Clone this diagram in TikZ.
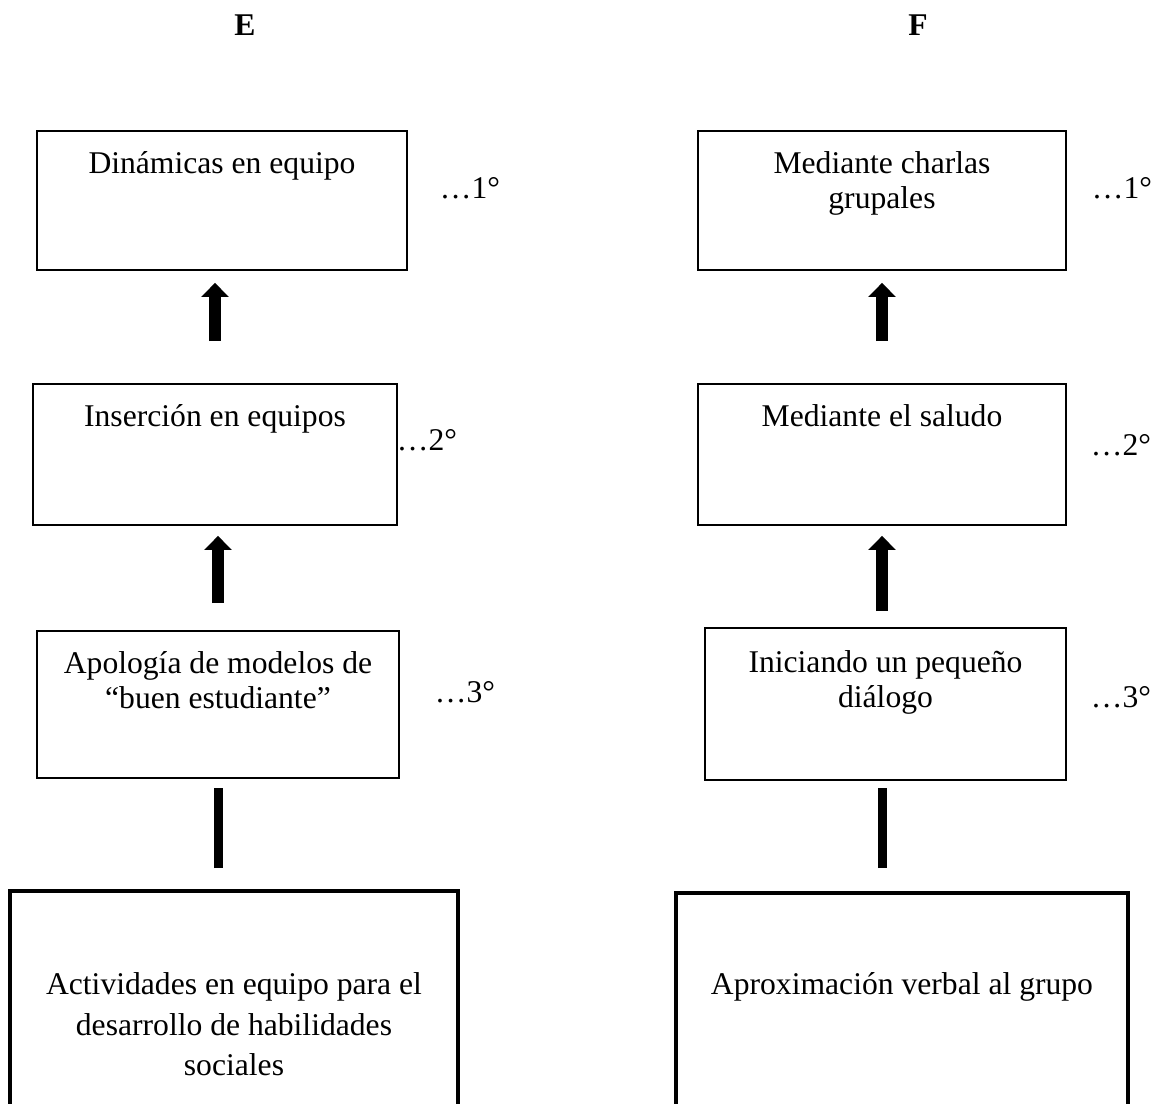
\documentclass[tikz,border=0pt]{standalone}
\usepackage{fontspec}
\setmainfont{Liberation Serif}
\usetikzlibrary{arrows.meta,positioning}

\tikzset{
  caja/.style={draw, line width=1.1pt, inner sep=0pt},
  base/.style={draw, line width=2.2pt, inner sep=0pt},
  txt/.style={font=\fontsize{18}{20}\selectfont, align=center, inner sep=0pt},
  txtb/.style={font=\fontsize{18}{23}\selectfont, align=center, inner sep=0pt},
  titulo/.style={font=\fontsize{18}{20}\selectfont\bfseries, inner sep=0pt},
  orden/.style={font=\fontsize{18}{20}\selectfont, inner sep=0pt},
  flecha/.style={line width=0.24cm, -{Triangle[width=0.54cm,length=0.28cm]}},
  barra/.style={line width=0.18cm}
}

\begin{document}
\begin{tikzpicture}[x=0.02cm, y=-0.02cm]
    \useasboundingbox (0,0) rectangle (1161,1104);

    % E
    \node[titulo] (hE) at (245,25) {E};
    \node[caja, minimum width=7.4cm, minimum height=2.78cm] (e1) at (222,200.5) {};
    \node[caja, minimum width=7.28cm, minimum height=2.82cm] (e2) at (215,454.5) {};
    \node[caja, minimum width=7.24cm, minimum height=2.94cm] (e3) at (218,704.5) {};
    \node[base, minimum width=8.96cm, minimum height=5.44cm] (e4) at (234,1027) {};

    \node[txt, below=0.42cm of e1.north] (e1t) {Dinámicas en equipo};
    \node[txt, below=0.42cm of e2.north] (e2t) {Inserción en equipos};
    \node[txt, below=0.42cm of e3.north] (e3t) {Apología de modelos de\\“buen estudiante”};
    \node[txtb, below=1.67cm of e4.north] (e4t) {Actividades en equipo para el\\desarrollo de habilidades\\sociales};

    \node[orden] (e1n) at (470,188) {…1°};
    \node[orden] (e2n) at (427,440) {…2°};
    \node[orden] (e3n) at (465,692) {…3°};

    \draw[flecha, shorten <=0.84cm, shorten >=0.24cm] (e2.north) -- (e2.north |- e1.south);
    \draw[flecha, shorten <=0.54cm, shorten >=0.2cm] (e3.north) -- (e3.north |- e2.south);
    \draw[barra, shorten <=0.42cm, shorten >=0.18cm] (e4.north -| e3.north) -- (e3.south);

    % F
    \node[titulo] (hF) at (918,25) {F};
    \node[caja, minimum width=7.36cm, minimum height=2.78cm] (f1) at (882,200.5) {};
    \node[caja, minimum width=7.36cm, minimum height=2.82cm] (f2) at (882,454.5) {};
    \node[caja, minimum width=7.22cm, minimum height=3.04cm] (f3) at (885.5,704) {};
    \node[base, minimum width=9.04cm, minimum height=5.4cm] (f4) at (902,1028) {};

    \node[txt, below=0.42cm of f1.north] (f1t) {Mediante charlas\\grupales};
    \node[txt, below=0.42cm of f2.north] (f2t) {Mediante el saludo};
    \node[txt, below=0.46cm of f3.north] (f3t) {Iniciando un pequeño\\diálogo};
    \node[txtb, below=1.62cm of f4.north] (f4t) {Aproximación verbal al grupo};

    \node[orden] (f1n) at (1122,188) {…1°};
    \node[orden] (f2n) at (1121,445) {…2°};
    \node[orden] (f3n) at (1121,697) {…3°};

    \draw[flecha, shorten <=0.84cm, shorten >=0.24cm] (f2.north) -- (f2.north |- f1.south);
    \draw[flecha, shorten <=0.32cm, shorten >=0.2cm] (f3.north -| f2.north) -- (f2.south);
    \draw[barra, shorten <=0.46cm, shorten >=0.14cm] (f4.north -| f2.north) -- (f3.south -| f2.north);
\end{tikzpicture}
\end{document}
